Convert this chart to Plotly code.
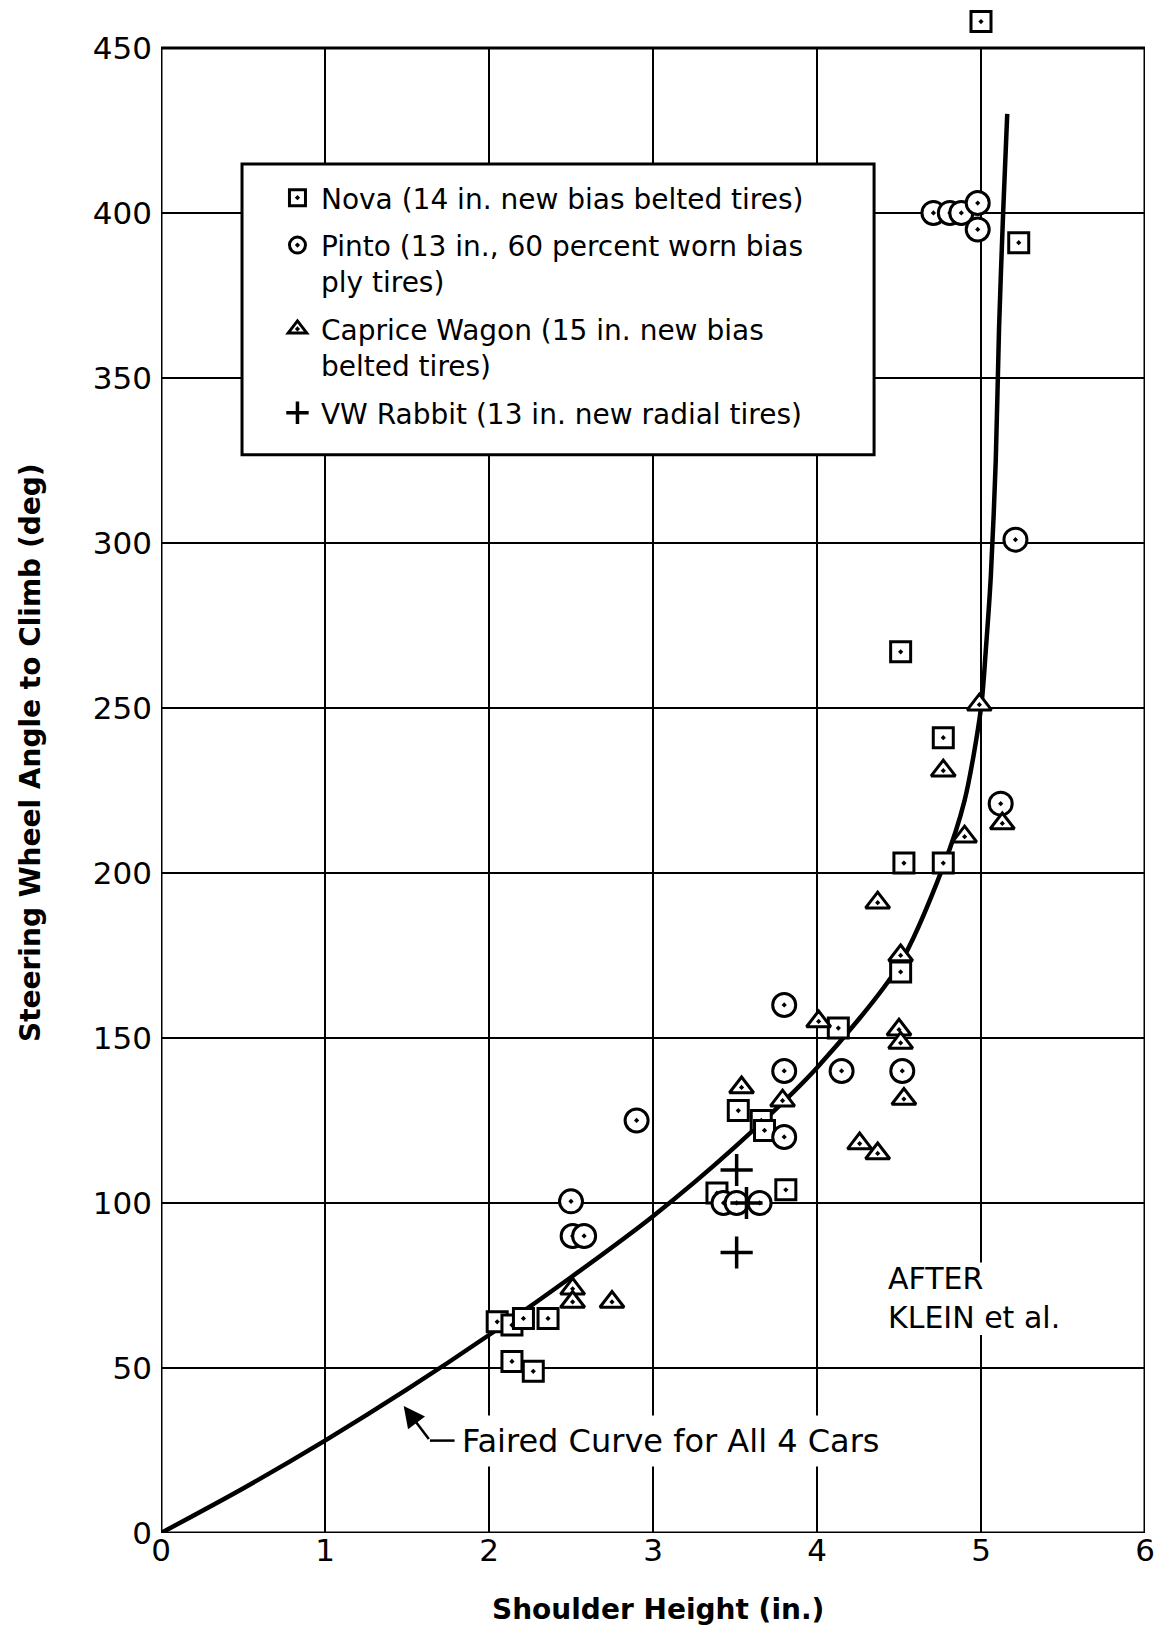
import plotly.graph_objects as go

# Shoulder height (in.) vs steering wheel angle to climb (deg)
nova_x = [2.05, 2.14, 2.21, 2.36, 2.14, 2.27, 3.39, 3.52, 3.66, 3.68, 3.81,
          4.13, 4.51, 4.53, 4.77, 4.77, 4.51, 5.0, 5.23]
nova_y = [64, 63, 65, 65, 52, 49, 103, 128, 125, 122, 104,
          153, 170, 203, 241, 203, 267, 458, 391]

pinto_x = [2.5, 2.51, 2.58, 2.9, 3.43, 3.51, 3.65, 3.8, 3.8, 3.8, 4.15,
           4.52, 5.12, 5.21, 4.71, 4.81, 4.88, 4.98, 4.98]
pinto_y = [100.5, 90, 90, 125, 100, 100, 100, 160, 140, 120, 140,
           140, 221, 301, 400, 400, 400, 403, 395]

caprice_x = [2.51, 2.51, 2.75, 3.54, 3.79, 4.01, 4.26, 4.37, 4.37, 4.51,
             4.5, 4.51, 4.53, 4.77, 4.9, 4.99, 5.13]
caprice_y = [74, 70, 70, 135, 131, 155, 118, 115, 191, 175,
             152.5, 148.5, 131.5, 231, 211, 251, 215]

rabbit_x = [3.51, 3.51, 3.57]
rabbit_y = [110, 85, 100]

curve_x = [0, 0.5, 1.0, 1.5, 2.0, 2.5, 3.0, 3.5, 4.0, 4.5, 4.77, 4.9,
           5.0, 5.03, 5.06, 5.09, 5.11, 5.135, 5.16]
curve_y = [0, 13.5, 28, 43.5, 60, 77.5, 96, 117, 141, 172, 202, 222,
           250, 268, 290, 325, 365, 400, 430]

FONT = "DejaVu Sans"

fig = go.Figure()

fig.add_trace(go.Scatter(
    x=curve_x, y=curve_y, mode="lines",
    line=dict(color="black", width=4.5, shape="spline", smoothing=0.8),
    showlegend=False, hoverinfo="skip",
))

series = [
    ("Nova (14 in. new bias belted tires)", nova_x, nova_y, "square-dot", 20),
    ("Pinto (13 in., 60 percent worn bias<br>ply tires)", pinto_x, pinto_y, "circle-dot", 23),
    ("Caprice Wagon (15 in. new bias<br>belted tires)", caprice_x, caprice_y, "triangle-up-dot", 21),
    ("VW Rabbit (13 in. new radial tires)", rabbit_x, rabbit_y, "cross-thin-open", 23),
]
for i, (name, xs, ys, symbol, size) in enumerate(series):
    is_open = "open" in symbol
    fig.add_trace(go.Scatter(
        x=xs, y=ys, mode="markers", name=name, legendgroup=str(i),
        marker=dict(symbol=symbol, size=size, color="black" if is_open else "white",
                    line=dict(color="black", width=3.5 if is_open else 3)),
        cliponaxis=False,
    ))

axis_style = dict(
    showgrid=True, gridcolor="black", gridwidth=2,
    showline=False, zeroline=False, ticks="",
    tickfont=dict(family=FONT, size=31, color="black"),
)

fig.update_layout(
    # the page body adds an 8px offset, so the figure is drawn 8px smaller
    width=1150, height=1620,
    margin=dict(l=153, r=13, t=0, b=95),
    paper_bgcolor="white", plot_bgcolor="white",
    xaxis=dict(range=[0, 6], dtick=1, ticklabelstandoff=-4, **axis_style),
    yaxis=dict(range=[0, 462.1], dtick=50, ticklabelstandoff=8, **axis_style),
    legend=dict(
        x=0.1148, y=0.8918, xanchor="left", yanchor="top",
        bgcolor="rgba(0,0,0,0)", borderwidth=0,
        font=dict(family=FONT, size=28, color="black"),
        tracegroupgap=8, valign="top", itemsizing="trace", itemwidth=37,
    ),
    shapes=[
        # hide grid above the 450 frame line (one Nova point sits above it)
        dict(type="rect", xref="x", yref="y", x0=-0.05, x1=6.05, y0=450, y1=462.1,
             fillcolor="white", line=dict(width=0), layer="between"),
        # gap in the grid behind the "AFTER KLEIN et al." note
        dict(type="rect", xref="x", yref="y", x0=4.4, x1=5.4, y0=60, y1=82,
             fillcolor="white", line=dict(width=0), layer="between"),
        # plot frame
        dict(type="rect", xref="x", yref="y", x0=0, x1=6, y0=0, y1=450,
             line=dict(color="black", width=3), layer="above"),
        # legend box
        dict(type="rect", xref="x", yref="y", x0=0.494, x1=4.348, y0=326.7, y1=414.8,
             fillcolor="white", line=dict(color="black", width=3), layer="above"),
        # hook of the curve label arrow
        dict(type="line", xref="x", yref="y", x0=1.64, x1=1.79, y0=28, y1=28,
             line=dict(color="black", width=2.5)),
    ],
)

fig.add_annotation(
    x=1.48, y=38.5, ax=1.64, ay=28, xref="x", yref="y", axref="x", ayref="y",
    text="", showarrow=True, arrowhead=2, arrowsize=1.7, arrowwidth=2.5, arrowcolor="black",
)
fig.add_annotation(
    x=1.79, y=28, xref="x", yref="y", xanchor="left", yanchor="middle",
    text="Faired Curve for All 4 Cars", showarrow=False, bgcolor="white", borderpad=6,
    font=dict(family=FONT, size=32, color="black"),
)
fig.add_annotation(
    x=4.42, y=77, xref="x", yref="y", xanchor="left", yanchor="middle",
    text="AFTER", showarrow=False,
    font=dict(family=FONT, size=30, color="black"),
)
fig.add_annotation(
    x=4.42, y=65.2, xref="x", yref="y", xanchor="left", yanchor="middle",
    text="KLEIN et al.", showarrow=False,
    font=dict(family=FONT, size=30, color="black"),
)
fig.add_annotation(
    x=-0.1321, y=0.5115, xref="paper", yref="paper", xanchor="center", yanchor="middle",
    text="Steering Wheel Angle to Climb (deg)", textangle=-90, showarrow=False,
    font=dict(family=FONT, size=28, color="black", weight="bold"),
)
fig.add_annotation(
    x=0.505, y=0, xref="paper", yref="paper", xanchor="center", yanchor="middle",
    yshift=-76, text="Shoulder Height (in.)", showarrow=False,
    font=dict(family=FONT, size=28, color="black", weight="bold"),
)

fig.write_html("out.html")
